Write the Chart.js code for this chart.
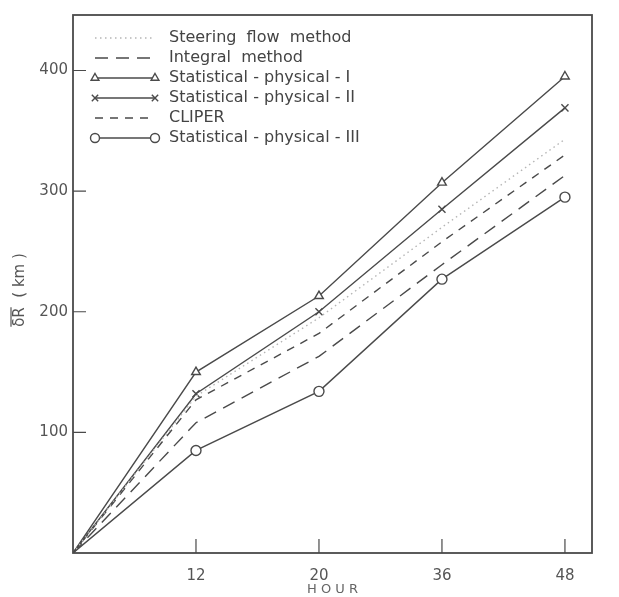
<!DOCTYPE html>
<html>
<head>
<meta charset="utf-8">
<script src="https://cdn.jsdelivr.net/npm/chart.js@4"></script>
<style>
  body { margin: 0; background: #fff; }
  canvas { display: block; }
</style>
</head>
<body>
<canvas id="trackChart" width="619" height="597"></canvas>
<script>
// hours along the x axis (equally spaced, origin at 0)
var hourLabels = ['', '12', '20', '36', '48'];
var hourIndex = [0, 1, 2, 3, 4];

// mean forecast error (km) for each method
var steeringFlow = [0, 130, 195, 270, 343];
var integralMethod = [0, 108, 163, 239, 313];
var statPhys1 = [0, 150, 213, 307, 395];
var statPhys2 = [0, 132, 200, 285, 369];
var cliper = [0, 127, 182, 258, 330];
var statPhys3 = [0, 85, 134, 227, 295];

var seriesNames = [
    'Steering  flow  method',
    'Integral  method',
    'Statistical - physical - I',
    'Statistical - physical - II',
    'CLIPER',
    'Statistical - physical - III'
];

var yTicks = [100, 200, 300, 400];

var ink = '#4a4a4a';

function pts(arr) {
    return arr.map(function (v, i) { return { x: hourIndex[i], y: v }; });
}

function series(label, values, dash, style, color) {
    return {
        label: label,
        data: pts(values),
        borderColor: color || ink,
        borderWidth: 1.4,
        borderDash: dash,
        pointStyle: style || false,
        pointRadius: style ? [0, 5, 5, 5, 5] : 0,
        pointBorderColor: ink,
        pointBackgroundColor: '#fff',
        pointBorderWidth: 1.4,
        fill: false,
        tension: 0
    };
}

// frame, inward ticks, y title and the legend box
var decorPlugin = {
    id: 'decor',
    afterDraw: function (chart) {
        var c = chart.ctx, a = chart.chartArea;
        var xs = chart.scales.x, ys = chart.scales.y;
        c.save();
        c.strokeStyle = ink;
        c.lineWidth = 1.8;
        c.strokeRect(a.left, a.top, a.right - a.left, a.bottom - a.top);

        c.lineWidth = 1.2;
        c.beginPath();
        for (var i = 1; i < hourIndex.length; i++) {
            var px = xs.getPixelForValue(hourIndex[i]);
            c.moveTo(px, a.bottom);
            c.lineTo(px, a.bottom - 14);
        }
        yTicks.forEach(function (v) {
            var py = ys.getPixelForValue(v);
            c.moveTo(a.left, py);
            c.lineTo(a.left + 13, py);
        });
        c.stroke();

        // y axis title with a bar over dR
        c.save();
        c.translate(20, 290);
        c.rotate(-Math.PI / 2);
        c.font = '15px "DejaVu Sans"';
        c.fillStyle = '#555';
        c.textAlign = 'left';
        c.textBaseline = 'middle';
        var head = 'δR', tail = '  ( km )';
        var w1 = c.measureText(head).width, w2 = c.measureText(tail).width;
        var x0 = -(w1 + w2) / 2;
        c.fillText(head, x0, 0);
        c.fillText(tail, x0 + w1, 0);
        c.strokeStyle = '#555';
        c.lineWidth = 1.2;
        c.beginPath();
        c.moveTo(x0, -9);
        c.lineTo(x0 + w1, -9);
        c.stroke();
        c.restore();

        // legend
        var lx0 = 95, lx1 = 155, ly = 38;
        chart.data.datasets.forEach(function (ds, i) {
            var y = ly + i * 20;
            c.strokeStyle = ds.borderColor;
            c.lineWidth = 1.4;
            c.setLineDash(ds.borderDash || []);
            c.beginPath();
            c.moveTo(lx0, y);
            c.lineTo(lx1, y);
            c.stroke();
            c.setLineDash([]);
            if (ds.pointStyle) {
                c.fillStyle = '#fff';
                c.strokeStyle = ink;
                [lx0, lx1].forEach(function (mx) {
                    Chart.helpers.drawPoint(c, {
                        pointStyle: ds.pointStyle,
                        radius: 4.5,
                        borderWidth: 1.4
                    }, mx, y);
                });
            }
            c.fillStyle = '#444';
            c.font = '16px "DejaVu Sans"';
            c.textAlign = 'left';
            c.textBaseline = 'middle';
            c.fillText(ds.label, 169, y);
        });
        c.restore();
    }
};

var ctx = document.getElementById('trackChart').getContext('2d');

var trackChart = new Chart(ctx, {
    type: 'line',
    data: {
        datasets: [
            series(seriesNames[0], steeringFlow, [1.5, 3.5], false, '#b5b5b5'),
            series(seriesNames[1], integralMethod, [13, 8]),
            series(seriesNames[2], statPhys1, [], 'triangle'),
            series(seriesNames[3], statPhys2, [], 'crossRot'),
            series(seriesNames[4], cliper, [8, 7]),
            series(seriesNames[5], statPhys3, [], 'circle')
        ]
    },
    options: {
        responsive: false,
        animation: false,
        layout: { padding: { top: 15, right: 27, left: 0, bottom: 0 } },
        plugins: {
            legend: { display: false },
            tooltip: { enabled: false }
        },
        scales: {
            x: {
                type: 'linear',
                min: 0,
                max: 4.22,
                border: { display: false },
                grid: { display: false, drawTicks: false },
                ticks: {
                    stepSize: 1,
                    includeBounds: false,
                    autoSkip: false,
                    maxRotation: 0,
                    padding: 14,
                    color: '#555',
                    font: { family: 'DejaVu Sans', size: 15 },
                    callback: function (v) { return hourLabels[v] || ''; }
                },
                title: {
                    display: true,
                    text: 'H O U R',
                    color: '#666',
                    font: { family: 'DejaVu Sans', size: 13 },
                    padding: { top: 0, bottom: 0 }
                },
                afterFit: function (s) { s.height = 44; }
            },
            y: {
                min: 0,
                max: 446,
                border: { display: false },
                grid: { display: false, drawTicks: false },
                ticks: {
                    stepSize: 100,
                    includeBounds: false,
                    padding: 5,
                    color: '#555',
                    font: { family: 'DejaVu Sans', size: 15 },
                    callback: function (v) { return yTicks.indexOf(v) >= 0 ? v : ''; }
                },
                afterFit: function (s) { s.width = 73; }
            }
        }
    },
    plugins: [decorPlugin]
});
</script>
</body>
</html>
